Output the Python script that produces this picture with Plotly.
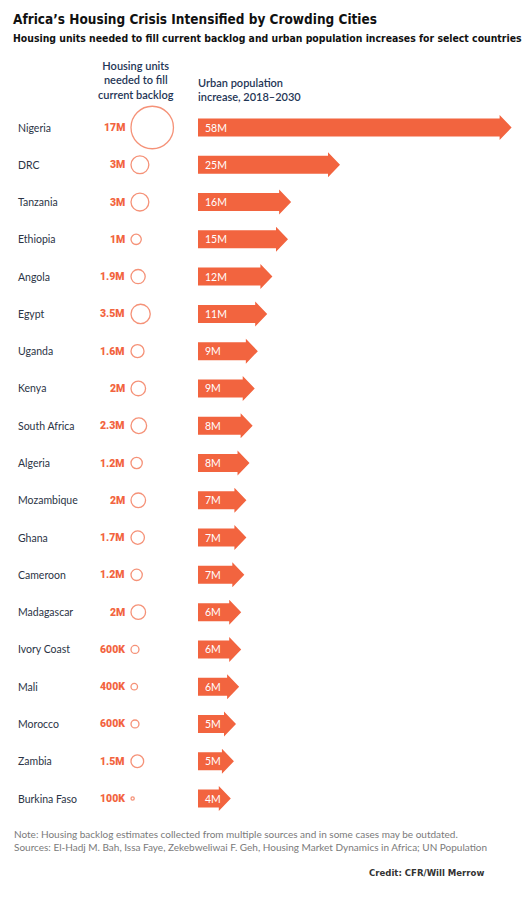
import plotly.graph_objects as go

# ---------------- data ----------------
countries = ["Nigeria", "DRC", "Tanzania", "Ethiopia", "Angola", "Egypt", "Uganda", "Kenya",
             "South Africa", "Algeria", "Mozambique", "Ghana", "Cameroon", "Madagascar",
             "Ivory Coast", "Mali", "Morocco", "Zambia", "Burkina Faso"]
backlog_m = [17, 3, 3, 1, 1.9, 3.5, 1.6, 2, 2.3, 1.2, 2, 1.7, 1.2, 2, 0.6, 0.4, 0.6, 1.5, 0.1]
backlog_labels = ["17M", "3M", "3M", "1M", "1.9M", "3.5M", "1.6M", "2M", "2.3M", "1.2M", "2M",
                  "1.7M", "1.2M", "2M", "600K", "400K", "600K", "1.5M", "100K"]
urban_increase_m = [58, 25, 15.6, 15, 12, 11, 9.2, 8.6, 8.2, 7.6, 7.0, 7.0, 6.6, 6.0, 6.0, 5.6,
                    5.0, 4.6, 4.0]
urban_labels = ["58M", "25M", "16M", "15M", "12M", "11M", "9M", "9M", "8M", "8M", "7M", "7M",
                "7M", "6M", "6M", "6M", "5M", "5M", "4M"]

# ---------------- style ----------------
W, H = 529, 900
ORANGE = "#F2643F"
NAVY = "#1F3656"
TEXT = "#2B3445"
GREY = "#7A7A7A"
ROW_PX = 37.28
FIRST_ROW_PX = 127.5
BAR_LEFT_PX = 198
BAR_PX_PER_UNIT = 5.2
HEAD_PX = 12
BODY_HALF_PX = 9
HEAD_HALF_PX = 12.5
CIRCLE_K = 10.3          # diameter px per sqrt(million)
CIRCLE_LEFT_PX = 131
LABEL_RIGHT_PX = 127

def px(x):
    return x / W

def py(y):
    return 1 - y / H

# y axis in row units: row i at y = -i
y_top = FIRST_ROW_PX / ROW_PX
y_range = [y_top - H / ROW_PX, y_top]
rows = [-i for i in range(len(countries))]

bar_range_max = (W - BAR_LEFT_PX) / BAR_PX_PER_UNIT
head_u = HEAD_PX / BAR_PX_PER_UNIT
bh = BODY_HALF_PX / ROW_PX
hh = HEAD_HALF_PX / ROW_PX

fig = go.Figure()

# arrows (bars)
xs, ys = [], []
for v, r in zip(urban_increase_m, rows):
    xs += [0, v, v, v + head_u, v, v, 0, 0, None]
    ys += [r - bh, r - bh, r - hh, r, r + hh, r + bh, r + bh, r - bh, None]
fig.add_trace(go.Scatter(x=xs, y=ys, mode="lines", fill="toself", fillcolor=ORANGE,
                         line=dict(width=0, color=ORANGE), xaxis="x", yaxis="y",
                         hoverinfo="skip", showlegend=False))

# circles (left-anchored), on a pixel-scaled helper axis spanning the whole width
diam = [CIRCLE_K * (b ** 0.5) for b in backlog_m]
cx = [CIRCLE_LEFT_PX + d / 2 for d in diam]
fig.add_trace(go.Scatter(x=cx, y=rows, mode="markers", xaxis="x2", yaxis="y",
                         marker=dict(size=diam, color="white",
                                     line=dict(color=ORANGE, width=1.3)),
                         hoverinfo="skip", showlegend=False, cliponaxis=False))

ann = []
for name, lab, ulab, r in zip(countries, backlog_labels, urban_labels, rows):
    ann.append(dict(x=px(16), xref="paper", y=r, yref="y", text=name, showarrow=False,
                    xanchor="left", yanchor="middle",
                    font=dict(family="Lato", size=10.5, color=TEXT)))
    ann.append(dict(x=px(LABEL_RIGHT_PX), xref="paper", y=r, yref="y", text=lab, showarrow=False,
                    xanchor="right", yanchor="middle",
                    font=dict(family="Roboto", size=10.5, color=ORANGE, weight=900)))
    ann.append(dict(x=0, xref="x", y=r, yref="y", text=ulab, showarrow=False, xshift=5,
                    xanchor="left", yanchor="middle",
                    font=dict(family="Lato", size=10.5, color="white")))

# headers
ann.append(dict(x=px(136), xref="paper", y=py(80), yref="paper",
                text="Housing units<br>needed to fill<br>current backlog", showarrow=False,
                xanchor="center", yanchor="middle", align="center",
                font=dict(family="Lato", size=11, color=NAVY, weight=600)))
ann.append(dict(x=px(196), xref="paper", y=py(89), yref="paper",
                text="Urban population<br>increase, 2018\u20132030", showarrow=False,
                xanchor="left", yanchor="middle", align="left",
                font=dict(family="Lato", size=11, color=NAVY, weight=600)))

# title + subtitle
COND = "Liberation Sans Narrow, DejaVu Sans Condensed, Roboto"
ann.append(dict(x=px(11), xref="paper", y=py(19), yref="paper",
                text="Africa\u2019s Housing Crisis Intensified by Crowding Cities", showarrow=False,
                xanchor="left", yanchor="middle",
                font=dict(family=COND, size=13.5, color="#111111", weight=700)))
ann.append(dict(x=px(11), xref="paper", y=py(38), yref="paper",
                text="Housing units needed to fill current backlog and urban population increases for select countries",
                showarrow=False, xanchor="left", yanchor="middle",
                font=dict(family=COND, size=10.4, color="#111111", weight=700)))

# notes
ann.append(dict(x=px(12), xref="paper", y=py(840), yref="paper",
                text="Note: Housing backlog estimates collected from multiple sources and in some cases may be outdated.<br>"
                     "Sources: El-Hadj M. Bah, Issa Faye, Zekebweliwai F. Geh, Housing Market Dynamics in Africa; UN Population",
                showarrow=False, xanchor="left", yanchor="middle", align="left",
                font=dict(family="Lato", size=10, color=GREY)))
ann.append(dict(x=px(486), xref="paper", y=py(872), yref="paper",
                text="Credit: CFR/Will Merrow", showarrow=False, xanchor="right", yanchor="middle",
                font=dict(family=COND, size=9.5, color="#333333", weight=700)))

fig.update_layout(
    width=W, height=H, margin=dict(l=0, r=0, t=0, b=0),
    paper_bgcolor="white", plot_bgcolor="rgba(0,0,0,0)",
    xaxis=dict(domain=[BAR_LEFT_PX / W, 1], range=[0, bar_range_max], visible=False,
               fixedrange=True, anchor="y"),
    xaxis2=dict(domain=[0, 1], range=[0, W], visible=False, fixedrange=True, anchor="y"),
    yaxis=dict(range=y_range, visible=False, fixedrange=True),
    annotations=ann, showlegend=False,
)

fig.write_html("out.html", config={"displayModeBar": False})
